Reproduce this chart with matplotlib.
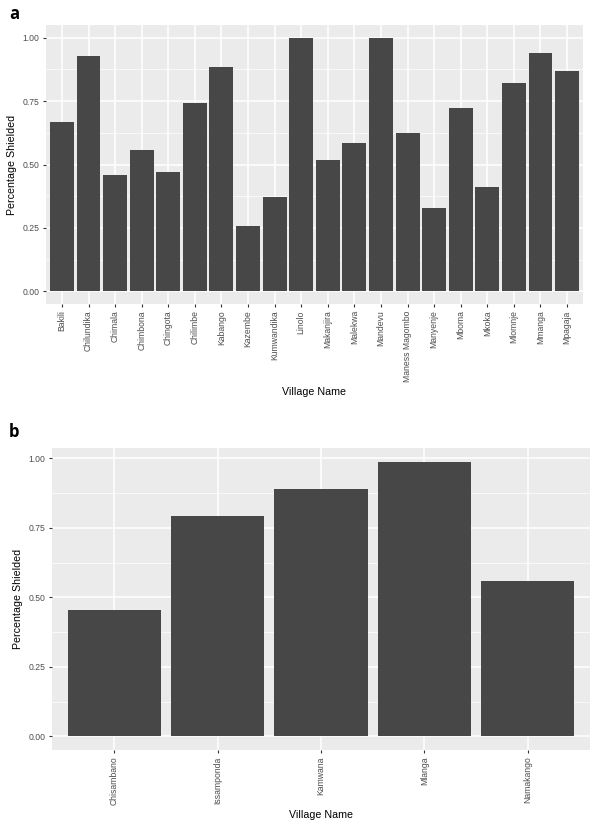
import matplotlib.pyplot as plt
import numpy as np
from matplotlib.ticker import MultipleLocator

plt.rcParams['font.family'] = ['Liberation Sans', 'DejaVu Sans']

# Panel a
villages_a = ['Bakili', 'Chilundika', 'Chimala', 'Chimbona', 'Chingota', 'Chilimbe',
              'Kabango', 'Kazembe', 'Kumwandika', 'Linolo', 'Makanjira', 'Malekwa',
              'Mandevu', 'Maness Magombo', 'Manyenje', 'Mboma', 'Mkoka', 'Mlomnje',
              'Mmanga', 'Mpagaja']
shielded_a = [0.666, 0.929, 0.458, 0.556, 0.470, 0.741, 0.886, 0.258, 0.372, 1.0,
              0.517, 0.584, 1.0, 0.623, 0.329, 0.721, 0.411, 0.823, 0.941, 0.867]

# Panel b
villages_b = ['Chisambano', 'Issamponda', 'Kamwana', 'Mlanga', 'Namakango']
shielded_b = [0.456, 0.794, 0.891, 0.988, 0.560]

W, H = 596, 826
fig = plt.figure(figsize=(W / 100, H / 100), dpi=100)


def panel(rect, names, values, letter, letter_y):
    # rect in pixels: left, top, right, bottom
    l, t, r, b = rect
    ax = fig.add_axes([l / W, 1 - b / H, (r - l) / W, (b - t) / H])
    ax.set_facecolor('#EBEBEB')
    x = np.arange(len(names))
    ax.bar(x, values, width=0.9, color='#474747', zorder=3)
    vmax = max(values)
    ax.set_ylim(-0.05 * vmax, 1.05 * vmax)
    ax.set_xlim(-0.6, len(names) - 0.4)
    ax.yaxis.set_minor_locator(MultipleLocator(0.125))
    ax.set_yticks([0, 0.25, 0.5, 0.75, 1.0])
    ax.set_yticklabels(['0.00', '0.25', '0.50', '0.75', '1.00'])
    ax.set_xticks(x)
    ax.set_xticklabels(names, rotation=90)
    ax.grid(which='major', color='white', linewidth=1.1, zorder=1)
    ax.grid(which='minor', axis='y', color='white', linewidth=0.5, zorder=1)
    ax.tick_params(axis='x', which='minor', bottom=False)
    ax.tick_params(axis='y', which='minor', left=False)
    ax.tick_params(which='major', length=2.5, width=0.8, color='#333333',
                   labelsize=6.2, labelcolor='#4D4D4D', pad=2)
    for s in ax.spines.values():
        s.set_visible(False)
    ax.set_ylabel('Percentage Shielded', fontsize=7.7, color='black', labelpad=4)
    ax.set_xlabel('Village Name', fontsize=7.7, color='black', labelpad=4)
    ax.set_axisbelow(True)
    fig.text(9 / W, 1 - letter_y / H, letter, fontsize=12, fontweight='bold',
             family=['Open Sans', 'DejaVu Sans'], va='baseline', ha='left')
    return ax


panel((46, 25, 583, 304), villages_a, shielded_a, 'a', 19)
panel((52, 448, 590, 750), villages_b, shielded_b, 'b', 437)

fig.savefig('out.png', dpi=100)
